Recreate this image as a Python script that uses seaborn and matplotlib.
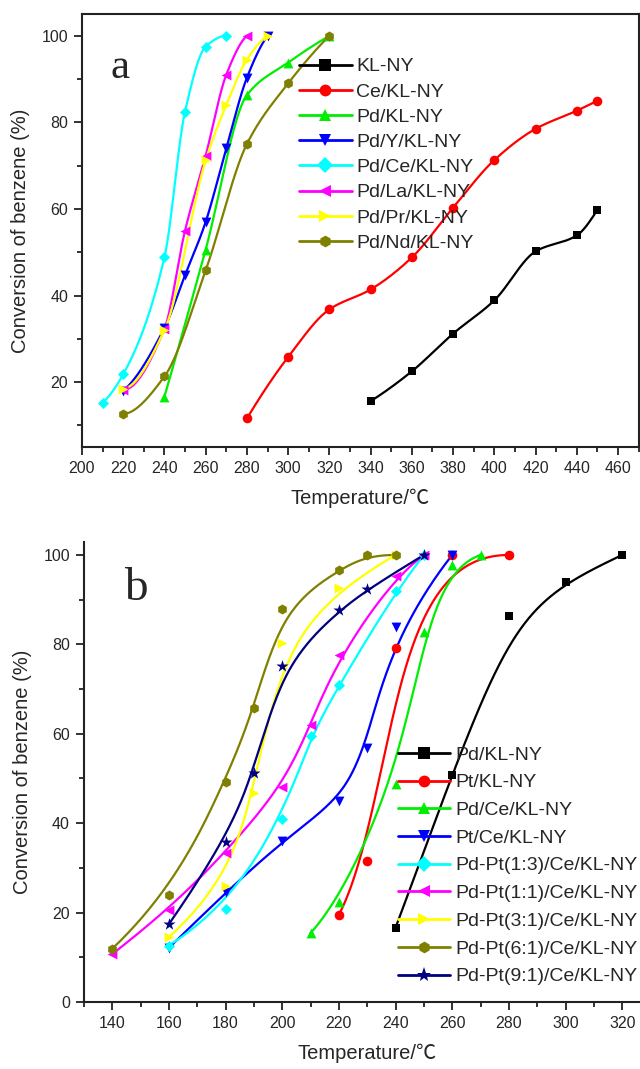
import numpy as np
import pandas as pd
import seaborn as sns
import matplotlib
matplotlib.use('Agg')
import matplotlib.pyplot as plt
from matplotlib.lines import Line2D
from matplotlib.ticker import MultipleLocator

# ---- panel a : single promoters ----
a_labels = ['KL-NY', 'Ce/KL-NY', 'Pd/KL-NY', 'Pd/Y/KL-NY', 'Pd/Ce/KL-NY',
            'Pd/La/KL-NY', 'Pd/Pr/KL-NY', 'Pd/Nd/KL-NY']
a_kl_t = [340, 360, 380, 400, 420, 440, 450]
a_kl_y = [15.6, 22.5, 31.2, 38.9, 50.2, 53.9, 59.8]
a_ce_t = [280, 300, 320, 340, 360, 380, 400, 420, 440, 450]
a_ce_y = [11.6, 25.8, 36.8, 41.4, 48.8, 60.3, 71.3, 78.5, 82.7, 85.0]
a_pd_t = [240, 260, 280, 300, 320]
a_pd_y = [16.6, 50.6, 86.3, 93.8, 100]
a_pdy_t = [220, 240, 250, 260, 270, 280, 290]
a_pdy_y = [18.0, 32.5, 44.7, 57.0, 74.0, 90.3, 100]
a_pdce_t = [210, 220, 240, 250, 260, 270]
a_pdce_y = [15.2, 21.8, 48.8, 82.5, 97.5, 100]
a_pdla_t = [220, 240, 250, 260, 270, 280]
a_pdla_y = [18.2, 32.3, 55.0, 72.3, 91.0, 100]
a_pdpr_t = [220, 240, 260, 270, 280, 290]
a_pdpr_y = [18.5, 32.0, 71.2, 84.0, 94.5, 100]
a_pdnd_t = [220, 240, 260, 280, 300, 320]
a_pdnd_y = [12.6, 21.3, 45.8, 75.0, 89.0, 100]

# ---- panel b : Pd-Pt bimetallic ----
b_labels = ['Pd/KL-NY', 'Pt/KL-NY', 'Pd/Ce/KL-NY', 'Pt/Ce/KL-NY',
            'Pd-Pt(1:3)/Ce/KL-NY', 'Pd-Pt(1:1)/Ce/KL-NY', 'Pd-Pt(3:1)/Ce/KL-NY',
            'Pd-Pt(6:1)/Ce/KL-NY', 'Pd-Pt(9:1)/Ce/KL-NY']
b_pd_t = [240, 260, 280, 300, 320]
b_pd_y = [16.6, 50.8, 86.4, 94.0, 100]
b_pt_t = [220, 230, 240, 260, 280]
b_pt_y = [19.5, 31.6, 79.1, 100, 100]
b_pdce_t = [210, 220, 240, 250, 260, 270]
b_pdce_y = [15.4, 22.4, 48.8, 82.8, 97.8, 100]
b_ptce_t = [160, 180, 200, 220, 230, 240, 260]
b_ptce_y = [12.1, 24.5, 36.1, 45.0, 56.8, 83.8, 100]
b_13_t = [160, 180, 200, 210, 220, 240, 250]
b_13_y = [12.6, 20.8, 40.9, 59.4, 70.8, 91.9, 100]
b_11_t = [140, 160, 180, 200, 210, 220, 240, 250]
b_11_y = [10.7, 20.6, 33.4, 48.2, 62.0, 77.6, 95.3, 100]
b_31_t = [160, 180, 190, 200, 220, 240]
b_31_y = [14.5, 26.0, 46.7, 80.2, 92.5, 100]
b_61_t = [140, 160, 180, 190, 200, 220, 230, 240]
b_61_y = [11.9, 23.9, 49.1, 65.7, 87.9, 96.7, 100, 100]
b_91_t = [160, 180, 190, 200, 220, 230, 250]
b_91_y = [17.4, 35.7, 51.2, 75.2, 87.6, 92.3, 100]

a_colors = ['#000000', '#ff0000', '#00ee00', '#0000ff', '#00ffff', '#ff00ff', '#ffff00', '#808000']
a_markers = ['s', 'o', '^', 'v', 'D', '<', '>', 'h']
b_colors = ['#000000', '#ff0000', '#00ee00', '#0000ff', '#00ffff', '#ff00ff', '#ffff00', '#808000', '#000080']
b_markers = ['s', 'o', '^', 'v', 'D', '<', '>', 'h', '*']
msize = {'s': 40, 'o': 48, '^': 50, 'v': 50, 'D': 32, '<': 50, '>': 50, 'h': 52, '*': 85}


def pchip_curve(xs, ys, num=300):
    # monotone cubic through the points (smooth connection, no overshoot)
    x = np.asarray(xs, float); y = np.asarray(ys, float)
    n = len(x); h = np.diff(x); d = np.diff(y) / h
    m = np.zeros(n)
    for k in range(1, n - 1):
        if d[k - 1] * d[k] > 0:
            w1 = 2 * h[k] + h[k - 1]; w2 = h[k] + 2 * h[k - 1]
            m[k] = (w1 + w2) / (w1 / d[k - 1] + w2 / d[k])

    def end_slope(h0, h1, d0, d1):
        s = ((2 * h0 + h1) * d0 - h0 * d1) / (h0 + h1)
        if np.sign(s) != np.sign(d0):
            s = 0.0
        elif np.sign(d0) != np.sign(d1) and abs(s) > 3 * abs(d0):
            s = 3 * d0
        return s
    m[0] = end_slope(h[0], h[1], d[0], d[1])
    m[-1] = end_slope(h[-1], h[-2], d[-1], d[-2])
    xx = np.linspace(x[0], x[-1], num)
    j = np.clip(np.searchsorted(x, xx) - 1, 0, n - 2)
    t = (xx - x[j]) / h[j]
    h00 = 2 * t ** 3 - 3 * t ** 2 + 1; h10 = t ** 3 - 2 * t ** 2 + t
    h01 = -2 * t ** 3 + 3 * t ** 2; h11 = t ** 3 - t ** 2
    yy = h00 * y[j] + h10 * h[j] * m[j] + h01 * y[j + 1] + h11 * h[j] * m[j + 1]
    return xx, yy


def bspline_curve(xs, ys, k=3, num=300):
    # clamped B-spline with the points as control points (Origin "B-Spline")
    x = np.asarray(xs, float); y = np.asarray(ys, float)
    n = len(x); k = min(k, n - 1)
    t = np.concatenate([np.zeros(k), np.arange(n - k + 1), np.full(k, n - k)]).astype(float)
    u = np.linspace(0, n - k, num)
    B = np.zeros((len(t) - 1, num))
    for i in range(len(t) - 1):
        B[i] = (t[i] <= u) & (u < t[i + 1])
    B[n - 1, -1] = 1.0
    for p in range(1, k + 1):
        Bn = np.zeros((len(t) - 1 - p, num))
        for i in range(len(t) - 1 - p):
            d1 = t[i + p] - t[i]; d2 = t[i + p + 1] - t[i + 1]
            a = (u - t[i]) / d1 * B[i] if d1 > 0 else 0
            b = (t[i + p + 1] - u) / d2 * B[i + 1] if d2 > 0 else 0
            Bn[i] = a + b
        B = Bn
    return x @ B, y @ B


def draw_panel(ax, series, labels, colors, markers, curve):
    for (xs, ys), lab, c, m in zip(series, labels, colors, markers):
        cx, cy = curve(xs, ys)
        sns.lineplot(x=cx, y=cy, color=c, lw=1.6, sort=False, estimator=None, ax=ax)
        df = pd.DataFrame({'T': xs, 'conv': ys})
        sns.scatterplot(data=df, x='T', y='conv', color=c, marker=m, s=msize[m],
                        edgecolor=c, linewidth=0, zorder=3, ax=ax)


def style_axes(ax):
    ax.xaxis.set_major_locator(MultipleLocator(20))
    ax.xaxis.set_minor_locator(MultipleLocator(10))
    ax.yaxis.set_major_locator(MultipleLocator(20))
    ax.yaxis.set_minor_locator(MultipleLocator(10))
    ax.tick_params(which='both', direction='out', top=False, right=False,
                   color='#222222', labelsize=11.5, width=1.3)
    ax.tick_params(which='major', length=6, pad=4)
    ax.tick_params(which='minor', length=3.5)
    for sp in ax.spines.values():
        sp.set_linewidth(1.5); sp.set_color('#222222')
    ax.set_xlabel('Temperature/℃', fontsize=14.5, labelpad=9)
    ax.set_ylabel('Conversion of benzene (%)', fontsize=14.5, labelpad=8)


def make_legend(ax, labels, colors, markers, anchor, spacing):
    handles = [Line2D([], [], color=c, marker=m, lw=2, markersize=8.5 if m != '*' else 11,
                      markeredgewidth=0) for c, m in zip(colors, markers)]
    ax.legend(handles, labels, loc='upper left', bbox_to_anchor=anchor, frameon=False,
              fontsize=14, handlelength=2.7, handletextpad=0.25, labelspacing=spacing,
              borderaxespad=0, borderpad=0)


sns.set_theme(style='ticks')
plt.rcParams['font.family'] = ['Liberation Sans', 'Noto Sans CJK SC', 'DejaVu Sans']

fig = plt.figure(figsize=(6.4, 10.69), dpi=100)

# panel a
ax_a = fig.add_axes([0.128, 0.5818, 0.870, 0.405])
series_a = [(a_kl_t, a_kl_y), (a_ce_t, a_ce_y), (a_pd_t, a_pd_y), (a_pdy_t, a_pdy_y),
            (a_pdce_t, a_pdce_y), (a_pdla_t, a_pdla_y), (a_pdpr_t, a_pdpr_y), (a_pdnd_t, a_pdnd_y)]
draw_panel(ax_a, series_a, a_labels, a_colors, a_markers, pchip_curve)
ax_a.set_xlim(200, 470)
ax_a.set_ylim(5, 105)
style_axes(ax_a)
ax_a.text(0.068, 0.852, 'a', transform=ax_a.transAxes, fontsize=31,
          family='Liberation Serif', ha='center', va='baseline')
make_legend(ax_a, a_labels, a_colors, a_markers, (0.39, 0.899), 0.39)

# panel b
ax_b = fig.add_axes([0.131, 0.0627, 0.8855, 0.4307])
series_b = [(b_pd_t, b_pd_y), (b_pt_t, b_pt_y), (b_pdce_t, b_pdce_y), (b_ptce_t, b_ptce_y),
            (b_13_t, b_13_y), (b_11_t, b_11_y), (b_31_t, b_31_y), (b_61_t, b_61_y), (b_91_t, b_91_y)]
draw_panel(ax_b, series_b, b_labels, b_colors, b_markers, bspline_curve)
ax_b.set_xlim(130, 330)
ax_b.set_ylim(0, 103)
ax_b.spines['top'].set_visible(False)
ax_b.spines['right'].set_visible(False)
style_axes(ax_b)
ax_b.text(0.091, 0.872, 'b', transform=ax_b.transAxes, fontsize=34,
          family='Liberation Serif', ha='center', va='baseline')
make_legend(ax_b, b_labels, b_colors, b_markers, (0.554, 0.556), 0.52)

fig.savefig('out.png', dpi=100)
